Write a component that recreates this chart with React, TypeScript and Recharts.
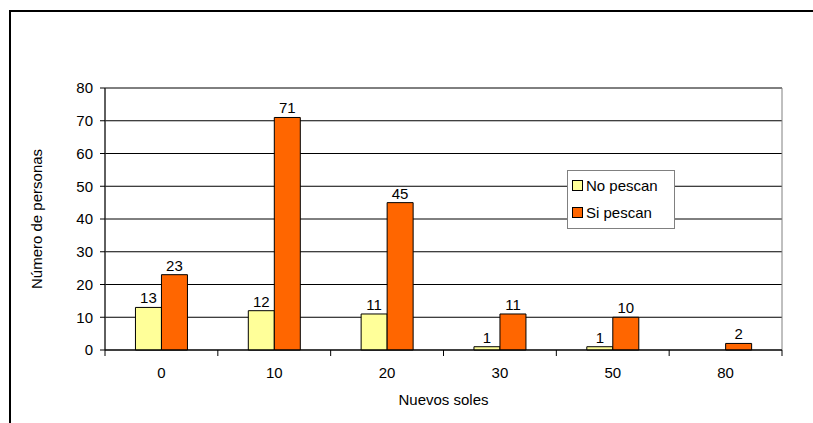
import { BarChart, Bar, XAxis, YAxis, CartesianGrid, LabelList, ReferenceArea } from 'recharts';

const categories = ['0', '10', '20', '30', '50', '80'];
const noPescan: (number | null)[] = [13, 12, 11, 1, 1, null];
const siPescan = [23, 71, 45, 11, 10, 2];
const yTicks = [0, 10, 20, 30, 40, 50, 60, 70, 80];

const data = categories.map((c, i) => ({ soles: c, no: noPescan[i], si: siPescan[i] }));

const FONT = 'Liberation Sans, Arial, sans-serif';
const FS = 15;
const W = 813;
const H = 423;
const M = { top: 88, right: 31, bottom: 0, left: 60 };
const Y_W = 45;
const X_H = 73;
const X_TICK = 6;
const X_GAP = 2;
const STEP = (W - M.left - Y_W - M.right) / categories.length;

const series = [
  { key: 'no', name: 'No pescan', color: '#FFFF99' },
  { key: 'si', name: 'Si pescan', color: '#FF6600' },
];

// category label plus the divider ticks between categories
function CatTick(props: any) {
  const { x, y, payload, index } = props;
  const axisY = y - X_TICK - X_GAP;
  const last = index === categories.length - 1;
  return (
    <g>
      <line x1={x - STEP / 2} x2={x - STEP / 2} y1={axisY} y2={axisY + 6} stroke="#000" />
      {last && <line x1={x + STEP / 2} x2={x + STEP / 2} y1={axisY} y2={axisY + 6} stroke="#000" />}
      <text x={x} y={axisY + 28} textAnchor="middle" fontSize={FS} fontFamily={FONT} fill="#000">
        {payload.value}
      </text>
    </g>
  );
}

function LegendBox() {
  return (
    <div style={{
      position: 'absolute', left: 567, top: 170, width: 108, height: 59,
      border: '1px solid #808080', background: '#fff', boxSizing: 'border-box',
      padding: '1px 0 0 4px', fontFamily: FONT, fontSize: FS,
    }}>
      {series.map(s => (
        <div key={s.key} style={{ display: 'flex', alignItems: 'center', height: 27 }}>
          <span style={{ width: 9, height: 9, border: '1px solid #000', background: s.color, marginRight: 3 }} />
          <span>{s.name}</span>
        </div>
      ))}
    </div>
  );
}

export default function App() {
  return (
    <div style={{ position: 'absolute', left: 0, top: 0, width: W, height: H, background: '#fff', overflow: 'hidden' }}>
      <div style={{
        position: 'absolute', left: 9, top: 10, width: 1000, height: 1000,
        borderTop: '2px solid #000', borderLeft: '2px solid #000',
      }} />
      <BarChart width={W} height={H} data={data} margin={M} barCategoryGap="27%" barGap={0}>
        <CartesianGrid vertical={false} stroke="#000" />
        <ReferenceArea y1={0} y2={80} fill="none" stroke="#808080" />
        <XAxis dataKey="soles" height={X_H} stroke="#000" tickLine={false} tickSize={X_TICK} tickMargin={X_GAP}
          tick={<CatTick />} interval={0}
          label={{ value: 'Nuevos soles', position: 'insideBottom', offset: 18, fontSize: FS, fontFamily: FONT, fill: '#000' }} />
        <YAxis width={Y_W} domain={[0, 80]} ticks={yTicks} interval={0} stroke="#000"
          tickSize={5} tickMargin={7} tick={{ fontSize: FS, fontFamily: FONT, fill: '#000' }}
          label={{ value: 'Número de personas', angle: -90, position: 'insideLeft', offset: -23, dy: 70, fontSize: FS, fontFamily: FONT, fill: '#000' }} />
        {series.map(s => (
          <Bar key={s.key} dataKey={s.key} name={s.name} fill={s.color} stroke="#000" strokeWidth={1} isAnimationActive={false}>
            <LabelList dataKey={s.key} position="top" offset={4} fontSize={FS} fontFamily={FONT} fill="#000" />
          </Bar>
        ))}
      </BarChart>
      <LegendBox />
    </div>
  );
}
